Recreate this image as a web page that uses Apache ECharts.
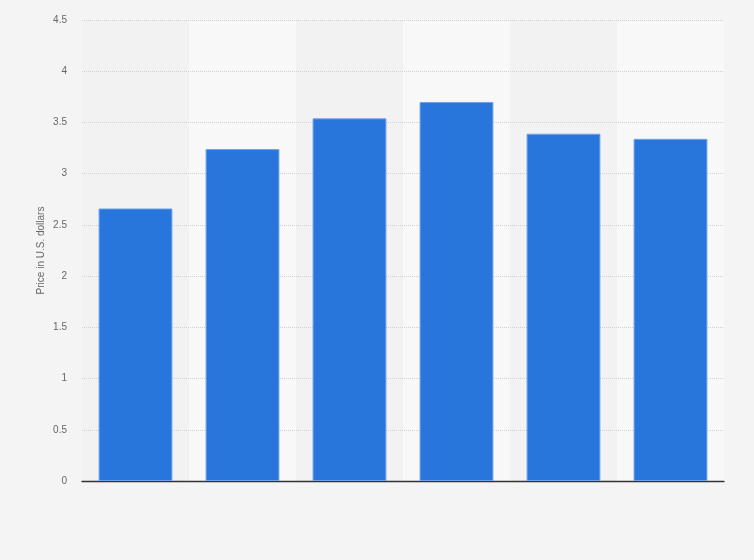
<!DOCTYPE html>
<html>
<head>
<meta charset="utf-8">
<script src="https://cdn.jsdelivr.net/npm/echarts@6/dist/echarts.min.js"></script>
<style>
  html, body { margin: 0; padding: 0; background: #f4f4f4; }
  #chart { width: 754px; height: 560px; }
</style>
</head>
<body>
<div id="chart"></div>
<script>
// categories are not labelled in the picture
var categories = ['1', '2', '3', '4', '5', '6'];
var prices = [2.66, 3.24, 3.54, 3.70, 3.39, 3.34];
var yTicks = { min: 0, max: 4.5, interval: 0.5 };

var chart = echarts.init(document.getElementById('chart'));
var option = {
    backgroundColor: '#f4f4f4',
    animation: false,
    grid: { left: 82, right: 30, top: 20, bottom: 79 },
    xAxis: {
        type: 'category',
        data: categories,
        z: 0,
        axisLine: { lineStyle: { color: '#333', width: 1.4 } },
        axisTick: { show: false },
        axisLabel: { show: false },
        splitArea: { show: true, areaStyle: { color: ['#f2f2f2', '#f8f8f8'] } }
    },
    yAxis: {
        type: 'value',
        min: yTicks.min,
        max: yTicks.max,
        interval: yTicks.interval,
        z: 1,
        name: 'Price in U.S. dollars',
        nameLocation: 'middle',
        nameGap: 36,
        nameMoveOverlap: false,
        nameTextStyle: { color: '#666', fontSize: 10, fontFamily: 'Liberation Sans, Arial, sans-serif' },
        axisLine: { show: false },
        axisTick: { show: false },
        axisLabel: { color: '#666', fontSize: 10, margin: 15, fontFamily: 'Liberation Sans, Arial, sans-serif' },
        splitLine: { showMinLine: false, lineStyle: { color: '#d0d0d0', type: [1, 1] } }
    },
    series: [
        {
            type: 'bar',
            data: prices,
            barWidth: '69%',
            z: 2,
            itemStyle: { color: '#2876dc', borderColor: '#6ea3ea', borderWidth: 1 }
        }
    ]
};
chart.setOption(option);
</script>
</body>
</html>
